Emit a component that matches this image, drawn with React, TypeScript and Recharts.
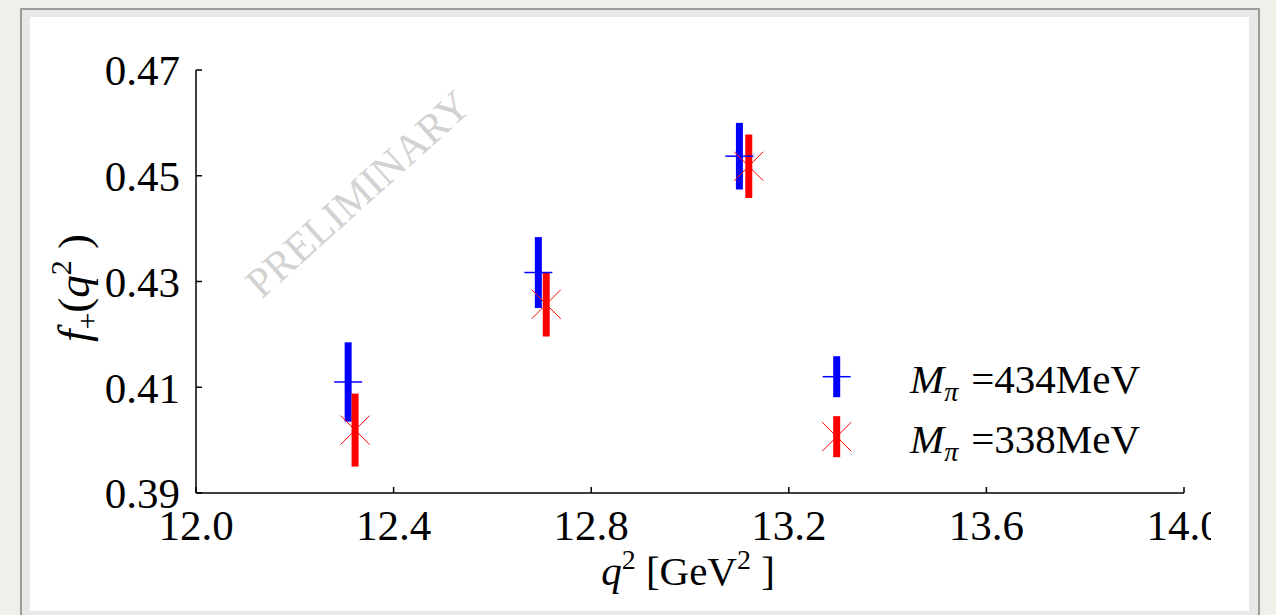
import React from "react";
import { ErrorBar, Legend, Scatter, ScatterChart, XAxis, YAxis } from "recharts";

// f+(q^2) at two pion masses
const pion434 = [
  { q2: 12.308, f: 0.411, err: 0.0075 },
  { q2: 12.693, f: 0.4317, err: 0.0067 },
  { q2: 13.1, f: 0.4537, err: 0.0063 },
];

const pion338 = [
  { q2: 12.322, f: 0.4019, err: 0.0069 },
  { q2: 12.709, f: 0.4257, err: 0.0061 },
  { q2: 13.119, f: 0.4518, err: 0.006 },
];

const xTicks = [12.0, 12.4, 12.8, 13.2, 13.6, 14.0];
const yTicks = [0.39, 0.41, 0.43, 0.45, 0.47];
const legendLabels = ["434MeV", "338MeV"];

const serif = "'Liberation Serif', 'Times New Roman', serif";
const blue = "#0000ff";
const red = "#ff0000";

function BlueTick(props: any) {
  const { cx, cy } = props;
  return <line x1={cx - 14} x2={cx + 14} y1={cy} y2={cy} stroke={blue} strokeWidth={1.5} />;
}

function RedCross(props: any) {
  const { cx, cy } = props;
  const r = 14.5;
  return (
    <g stroke={red} strokeWidth={1}>
      <line x1={cx - r} y1={cy - r} x2={cx + r} y2={cy + r} />
      <line x1={cx - r} y1={cy + r} x2={cx + r} y2={cy - r} />
    </g>
  );
}

function LegendBox() {
  return (
    <svg width={360} height={125} style={{ display: "block" }}>
      {legendLabels.map((label, i) => {
        const cy = 31.7 + i * 60;
        const cx = 26.7;
        const color = i === 0 ? blue : red;
        return (
          <g key={label}>
            <rect x={cx - 3.5} y={cy - 20.5} width={7} height={41} fill={color} />
            {i === 0 ? <BlueTick cx={cx} cy={cy} /> : <RedCross cx={cx} cy={cy} />}
            <text x={100} y={48.3 + i * 60} fontFamily={serif} fontSize={41} fill="#000">
              <tspan fontStyle="italic">M</tspan>
              <tspan fontStyle="italic" fontSize={28} dy={8}>π</tspan>
              <tspan dy={-8} dx={13}>={label}</tspan>
            </text>
          </g>
        );
      })}
    </svg>
  );
}

const tickStyle = { fontSize: 43, fill: "#000", fontFamily: serif };
const axisStroke = { stroke: "#000", strokeWidth: 1.5 };

export default function App() {
  return (
    <div style={{ position: "absolute", left: 0, top: 0, width: 1276, height: 615, background: "#f1efea", overflow: "hidden" }}>
      <div
        style={{
          position: "absolute",
          left: 20,
          top: 8,
          width: 1236,
          height: 620,
          border: "2px solid #9c9c9c",
          background: "#e8e8e6",
        }}
      />
      <div style={{ position: "absolute", left: 30, top: 17, width: 1219, height: 594, background: "#fff" }} />
      <div style={{ position: "absolute", left: 0, top: 0 }}>
        <ScatterChart width={1211} height={615} margin={{ top: 70, right: 27, bottom: 62, left: 96 }}>
          <XAxis
            xAxisId="b"
            type="number"
            dataKey="q2"
            domain={[12, 14]}
            ticks={xTicks}
            tickFormatter={(v: number) => v.toFixed(1)}
            height={60}
            tickSize={-6}
            tickMargin={22}
            tick={tickStyle}
            axisLine={axisStroke}
            tickLine={axisStroke}
            interval={0}
            allowDataOverflow
          />
          <XAxis
            xAxisId="t"
            orientation="top"
            type="number"
            dataKey="q2"
            domain={[12, 14]}
            ticks={xTicks}
            height={0}
            tickSize={-6}
            tick={false}
            axisLine={axisStroke}
            tickLine={axisStroke}
            allowDataOverflow
          />
          <YAxis
            yAxisId="l"
            type="number"
            dataKey="f"
            domain={[0.39, 0.47]}
            ticks={yTicks}
            tickFormatter={(v: number) => v.toFixed(2)}
            width={100}
            tickSize={-6}
            tickMargin={22}
            tick={tickStyle}
            axisLine={axisStroke}
            tickLine={axisStroke}
            interval={0}
            allowDataOverflow
          />
          <YAxis
            yAxisId="r"
            orientation="right"
            type="number"
            dataKey="f"
            domain={[0.39, 0.47]}
            ticks={yTicks}
            width={0}
            tickSize={-6}
            tick={false}
            axisLine={axisStroke}
            tickLine={axisStroke}
            allowDataOverflow
          />
          <text
            x={358}
            y={194}
            transform="rotate(-42 358 194)"
            textAnchor="middle"
            dominantBaseline="central"
            fontFamily={serif}
            fontSize={42}
            fill="#d2d2d2"
          >
            PRELIMINARY
          </text>
          <Scatter
            name="434"
            data={pion434}
            xAxisId="b"
            yAxisId="l"
            shape={(p: any) => <BlueTick {...p} />}
            isAnimationActive={false}
          >
            <ErrorBar dataKey="err" direction="y" width={0} stroke={blue} strokeWidth={7} />
          </Scatter>
          <Scatter
            name="338"
            data={pion338}
            xAxisId="b"
            yAxisId="l"
            shape={(p: any) => <RedCross {...p} />}
            isAnimationActive={false}
          >
            <ErrorBar dataKey="err" direction="y" width={0} stroke={red} strokeWidth={7} />
          </Scatter>
          <text x={688} y={585} textAnchor="middle" fontFamily={serif} fontSize={41} fill="#000">
            <tspan fontStyle="italic">q</tspan>
            <tspan fontSize={28} dy={-16}>2</tspan>
            <tspan dy={16}> [GeV</tspan>
            <tspan fontSize={28} dy={-16}>2</tspan>
            <tspan dy={16}> ]</tspan>
          </text>
          <text transform="translate(89 288) rotate(-90)" textAnchor="middle" fontFamily={serif} fontSize={45} fill="#000">
            <tspan fontStyle="italic">f</tspan>
            <tspan fontSize={30} dy={8}>+</tspan>
            <tspan dy={-8}>(</tspan>
            <tspan fontStyle="italic">q</tspan>
            <tspan fontSize={30} dy={-18}>2</tspan>
            <tspan dy={18}> )</tspan>
          </text>
          <Legend
            layout="vertical"
            align="center"
            verticalAlign="middle"
            content={() => <LegendBox />}
            wrapperStyle={{ left: 810, top: 345, width: 360, height: 125 }}
          />
        </ScatterChart>
      </div>
    </div>
  );
}
